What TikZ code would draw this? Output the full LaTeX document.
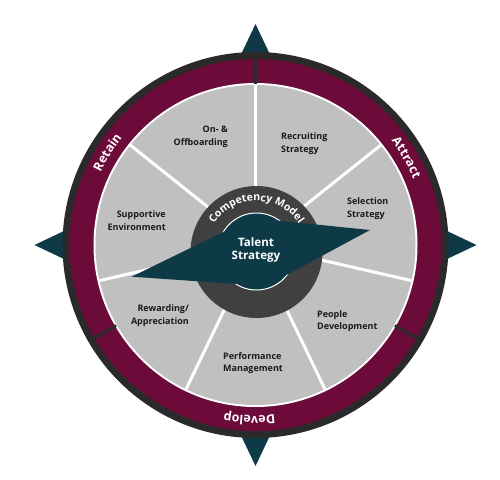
\documentclass[tikz,border=0pt]{standalone}
\usepackage{fontspec}
\setmainfont{Open Sans}
\usetikzlibrary{decorations.text}
\definecolor{wine}{RGB}{108,10,58}
\definecolor{rim}{RGB}{42,42,42}
\definecolor{sector}{RGB}{192,192,192}
\definecolor{hub}{RGB}{64,64,64}
\definecolor{needle}{RGB}{14,58,72}
\definecolor{ink}{RGB}{26,26,26}

\begin{document}
\begin{tikzpicture}[x=1pt,y=1pt]
  \tikzstyle{areatext}=[font=\bfseries\fontsize{9}{12.5}\selectfont,text=ink,inner sep=0pt]
  \tikzstyle{spoke}=[white,line width=3pt]
  \tikzstyle{arctext}=[decorate,decoration={text along path,text align=center,text color=white}]

  \useasboundingbox (-255.5,-234) rectangle (244.5,245);

  % compass points
  \foreach \a in {0,90,180,270}
    \fill[needle] (\a:221) -- (\a+7.2:176) -- (\a-7.2:176) -- cycle;

  % outer ring
  \fill[rim] (0,0) circle (193);
  \fill[wine] (0,0) circle (186);
  \fill[white] (0,0) circle (162);
  \fill[sector] (0,0) circle (160);
  \foreach \a in {90,210,330}
    \draw[rim,line width=3pt] (\a:161) -- (\a:188);

  % sectors
  \foreach \i in {0,...,6}
    \draw[spoke] (0,0) -- ({90-\i*360/7}:161);

  % hub
  \fill[hub] (1,-7) circle (66);
  \draw[white,line width=1pt,fill=needle] (1,-6.5) circle (38.5);
  \fill[needle] (-123.8,-31.7) -- (-3.5,27) -- (114.5,15) -- (10.5,-41) -- cycle;

  \path[arctext,shift={(1,-7)},decoration={text={|\bfseries\fontsize{10.5}{12}\selectfont|Competency Model}}]
    (170:51) arc[start angle=170,end angle=10,radius=51];
  \path[arctext,decoration={text={|\bfseries\fontsize{12.5}{14}\selectfont|Retain}}]
    (188:171) arc[start angle=188,end angle=108,radius=171];
  \path[arctext,decoration={text={|\bfseries\fontsize{12.5}{14}\selectfont|Attract}}]
    (70:171) arc[start angle=70,end angle=-10,radius=171];
  \path[arctext,decoration={text={|\bfseries\fontsize{12.5}{14}\selectfont|Develop}}]
    (308:171) arc[start angle=308,end angle=228,radius=171];

  \node[font=\bfseries\fontsize{11.6}{13.5}\selectfont,text=white,align=center] (talent) at (0.5,-5) {Talent\\Strategy};

  \node[areatext,anchor=east,align=right] (onboard) at (-27.5,108) {On- \&\\Offboarding};
  \node[areatext,anchor=west,align=left] (recruit) at (25.5,101.5) {Recruiting\\Strategy};
  \node[areatext,anchor=west,align=left] (select) at (91.5,36.5) {Selection\\Strategy};
  \node[areatext,anchor=east,align=right] (support) at (-89.5,24.5) {Supportive\\Environment};
  \node[areatext,anchor=east,align=right] (reward) at (-66.5,-70.5) {Rewarding/\\Appreciation};
  \node[areatext,anchor=west,align=left] (people) at (61.5,-76) {People\\Development};
  \node[areatext,anchor=west,align=left] (perform) at (-32.5,-118) {Performance\\Management};
\end{tikzpicture}
\end{document}
